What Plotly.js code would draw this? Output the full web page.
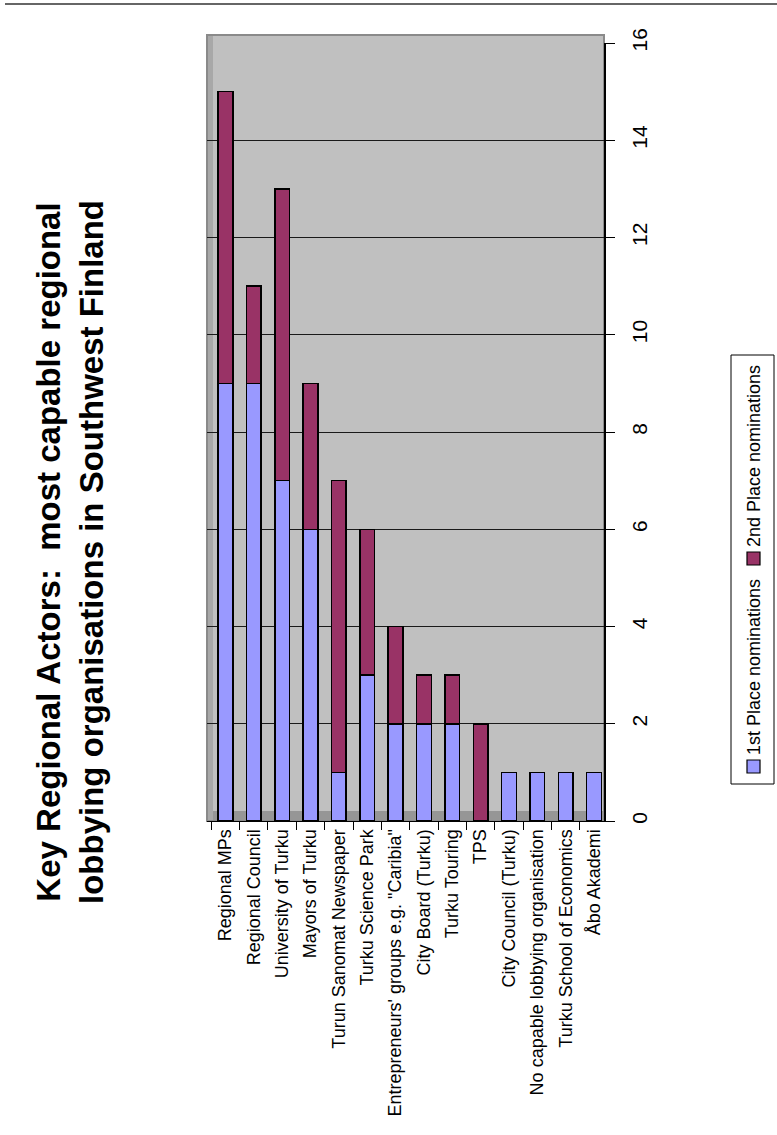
<!DOCTYPE html>
<html>
<head>
<meta charset="utf-8">
<script src="https://cdn.plot.ly/plotly-3.0.1.min.js"></script>
<style>
  html, body { margin: 0; padding: 0; background: #ffffff; }
  #chart { width: 777px; height: 1135px; }
</style>
</head>
<body>
<div id="chart"></div>
<script>
// ---- data ----
const categories = [
  "Regional MPs",
  "Regional Council",
  "University of Turku",
  "Mayors of Turku",
  "Turun Sanomat Newspaper",
  "Turku Science Park",
  "Entrepreneurs' groups e.g. \"Caribia\"",
  "City Board (Turku)",
  "Turku Touring",
  "TPS",
  "City Council (Turku)",
  "No capable lobbying organisation",
  "Turku School of Economics",
  "Åbo Akademi"
];
const firstPlace  = [9, 9, 7, 6, 1, 3, 2, 2, 2, 0, 1, 1, 1, 1];
const secondPlace = [6, 2, 6, 3, 6, 3, 2, 1, 1, 2, 0, 0, 0, 0];
const seriesNames = ["1st Place nominations", "2nd Place nominations"];
const seriesColors = ["#9999FF", "#993366"];
const valueTicks = [0, 2, 4, 6, 8, 10, 12, 14, 16];
const titleLines = ["Key Regional Actors:  most capable regional", "lobbying organisations in Southwest Finland"];

// ---- layout geometry ----
const W = 777, H = 1135;
const M = { l: 207, r: 173, t: 43, b: 314 };
const PW = W - M.l - M.r, PH = H - M.t - M.b;
const px = x => (x - M.l) / PW;          // absolute pixel -> paper x
const py = y => (H - M.b - y) / PH;      // absolute pixel -> paper y

const FONT = "Liberation Sans, Arial, Helvetica, sans-serif";

const traces = [firstPlace, secondPlace].map((vals, i) => ({
  type: "bar",
  name: seriesNames[i],
  x: categories,
  y: vals,
  width: 0.52,
  marker: { color: seriesColors[i], line: { color: "#000000", width: 1.5 } },
  hoverinfo: "skip"
}));

const shapes = [
  // page rule at top
  { type: "line", xref: "paper", yref: "paper", x0: px(5), x1: px(777), y0: py(4), y1: py(4),
    line: { color: "#333333", width: 1.5 } },
  // wall extension above the top gridline
  { type: "rect", xref: "paper", yref: "paper", x0: 0, x1: 1, y0: 1, y1: py(35),
    fillcolor: "#C0C0C0", line: { width: 0 }, layer: "below" },
  // floor
  { type: "rect", xref: "paper", yref: "paper", x0: 0, x1: 1, y0: 0, y1: py(811),
    fillcolor: "#969696", line: { width: 0 }, layer: "below" },
  // left side wall strip
  { type: "rect", xref: "paper", yref: "paper", x0: 0, x1: px(213), y0: 0, y1: py(35),
    fillcolor: "#A8A8A8", line: { width: 0 }, layer: "below" },
  // wall outline
  { type: "rect", xref: "paper", yref: "paper", x0: 0, x1: 1, y0: 0, y1: py(35),
    fillcolor: "rgba(0,0,0,0)", line: { color: "#8A8A8A", width: 2 }, layer: "below" },
  // legend box
  { type: "rect", xref: "paper", yref: "paper", x0: px(731), x1: px(774), y0: py(784), y1: py(355),
    fillcolor: "#ffffff", line: { color: "#000000", width: 1 } },
  // legend swatches
  { type: "rect", xref: "paper", yref: "paper", x0: px(747), x1: px(760), y0: py(773), y1: py(760),
    fillcolor: seriesColors[0], line: { color: "#000000", width: 1.2 } },
  { type: "rect", xref: "paper", yref: "paper", x0: px(747), x1: px(760), y0: py(565), y1: py(552),
    fillcolor: seriesColors[1], line: { color: "#000000", width: 1.2 } }
];

const annotations = [
  { xref: "paper", yref: "paper", x: px(70), y: py(552), xanchor: "center", yanchor: "middle",
    text: "<b>" + titleLines.join("<br>") + "</b>", textangle: -90, showarrow: false,
    font: { family: FONT, size: 33, color: "#000000" } },
  { xref: "paper", yref: "paper", x: px(754), y: py(667), xanchor: "center", yanchor: "middle",
    text: seriesNames[0], textangle: -90, showarrow: false,
    font: { family: FONT, size: 18, color: "#000000" } },
  { xref: "paper", yref: "paper", x: px(754), y: py(456), xanchor: "center", yanchor: "middle",
    text: seriesNames[1], textangle: -90, showarrow: false,
    font: { family: FONT, size: 18, color: "#000000" } }
];

const layout = {
  width: W, height: H,
  margin: M,
  paper_bgcolor: "#ffffff",
  plot_bgcolor: "#C0C0C0",
  barmode: "stack",
  showlegend: false,
  font: { family: FONT, color: "#000000" },
  xaxis: {
    type: "category",
    range: [-0.65, 13.35],
    tickangle: -90,
    tickfont: { family: FONT, size: 18, color: "#000000" },
    ticks: "outside", tickson: "boundaries", ticklen: 8, tickcolor: "#000000",
    showgrid: false, showline: true, linecolor: "#000000", linewidth: 1,
    zeroline: false, automargin: false, fixedrange: true
  },
  yaxis: {
    side: "right",
    range: [0, 16],
    tickvals: valueTicks,
    ticktext: valueTicks.map(String),
    tickangle: -90,
    tickfont: { family: FONT, size: 21, color: "#000000" },
    ticks: "outside", ticklen: 9, tickcolor: "#000000",
    ticklabelstandoff: 7,
    showline: true, linecolor: "#000000", linewidth: 1.5,
    showgrid: true, gridcolor: "#1a1a1a", gridwidth: 1,
    zeroline: false, automargin: false, fixedrange: true
  },
  shapes: shapes,
  annotations: annotations
};

Plotly.newPlot("chart", traces, layout, { displayModeBar: false, staticPlot: true });
</script>
</body>
</html>
